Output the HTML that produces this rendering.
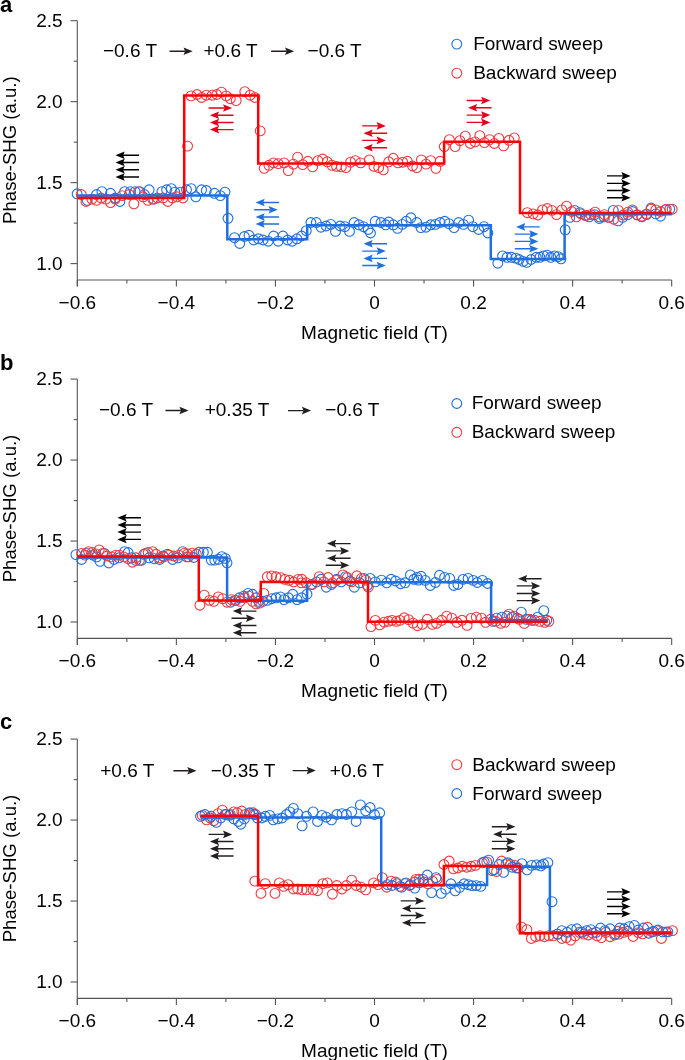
<!DOCTYPE html><html><head><meta charset="utf-8"><style>html,body{margin:0;padding:0;background:#fff;}svg{display:block;} text{-webkit-font-smoothing:antialiased;} .gs{will-change:transform;}</style></head><body><svg class="gs" width="685" height="1060" viewBox="0 0 685 1060">
<rect width="685" height="1060" fill="#fff"/>
<g stroke="#555555" stroke-width="1.1" fill="none" stroke-linecap="butt"><line x1="77.3" y1="20.690000000000026" x2="77.3" y2="286.6" /><line x1="77.3" y1="280.0" x2="671.6800000000001" y2="280.0" /><line x1="70.5" y1="263.60" x2="77.3" y2="263.60" /><line x1="70.5" y1="182.63" x2="77.3" y2="182.63" /><line x1="70.5" y1="101.66" x2="77.3" y2="101.66" /><line x1="70.5" y1="20.69" x2="77.3" y2="20.69" /><line x1="73.8" y1="223.12" x2="77.3" y2="223.12" /><line x1="73.8" y1="142.15" x2="77.3" y2="142.15" /><line x1="73.8" y1="61.18" x2="77.3" y2="61.18" /><line x1="77.32" y1="280.0" x2="77.32" y2="286.6" /><line x1="176.38" y1="280.0" x2="176.38" y2="286.6" /><line x1="275.44" y1="280.0" x2="275.44" y2="286.6" /><line x1="374.50" y1="280.0" x2="374.50" y2="286.6" /><line x1="473.56" y1="280.0" x2="473.56" y2="286.6" /><line x1="572.62" y1="280.0" x2="572.62" y2="286.6" /><line x1="671.68" y1="280.0" x2="671.68" y2="286.6" /><line x1="126.85" y1="280.0" x2="126.85" y2="283.5" /><line x1="225.91" y1="280.0" x2="225.91" y2="283.5" /><line x1="324.97" y1="280.0" x2="324.97" y2="283.5" /><line x1="424.03" y1="280.0" x2="424.03" y2="283.5" /><line x1="523.09" y1="280.0" x2="523.09" y2="283.5" /><line x1="622.15" y1="280.0" x2="622.15" y2="283.5" /><line x1="77.3" y1="379.09000000000003" x2="77.3" y2="645.0" /><line x1="77.3" y1="638.4" x2="671.6800000000001" y2="638.4" /><line x1="70.5" y1="622.00" x2="77.3" y2="622.00" /><line x1="70.5" y1="541.03" x2="77.3" y2="541.03" /><line x1="70.5" y1="460.06" x2="77.3" y2="460.06" /><line x1="70.5" y1="379.09" x2="77.3" y2="379.09" /><line x1="73.8" y1="581.51" x2="77.3" y2="581.51" /><line x1="73.8" y1="500.55" x2="77.3" y2="500.55" /><line x1="73.8" y1="419.57" x2="77.3" y2="419.57" /><line x1="77.32" y1="638.4" x2="77.32" y2="645.0" /><line x1="176.38" y1="638.4" x2="176.38" y2="645.0" /><line x1="275.44" y1="638.4" x2="275.44" y2="645.0" /><line x1="374.50" y1="638.4" x2="374.50" y2="645.0" /><line x1="473.56" y1="638.4" x2="473.56" y2="645.0" /><line x1="572.62" y1="638.4" x2="572.62" y2="645.0" /><line x1="671.68" y1="638.4" x2="671.68" y2="645.0" /><line x1="126.85" y1="638.4" x2="126.85" y2="641.9" /><line x1="225.91" y1="638.4" x2="225.91" y2="641.9" /><line x1="324.97" y1="638.4" x2="324.97" y2="641.9" /><line x1="424.03" y1="638.4" x2="424.03" y2="641.9" /><line x1="523.09" y1="638.4" x2="523.09" y2="641.9" /><line x1="622.15" y1="638.4" x2="622.15" y2="641.9" /><line x1="77.3" y1="739.09" x2="77.3" y2="1005.0" /><line x1="77.3" y1="998.4" x2="671.6800000000001" y2="998.4" /><line x1="70.5" y1="982.00" x2="77.3" y2="982.00" /><line x1="70.5" y1="901.03" x2="77.3" y2="901.03" /><line x1="70.5" y1="820.06" x2="77.3" y2="820.06" /><line x1="70.5" y1="739.09" x2="77.3" y2="739.09" /><line x1="73.8" y1="941.51" x2="77.3" y2="941.51" /><line x1="73.8" y1="860.54" x2="77.3" y2="860.54" /><line x1="73.8" y1="779.58" x2="77.3" y2="779.58" /><line x1="77.32" y1="998.4" x2="77.32" y2="1005.0" /><line x1="176.38" y1="998.4" x2="176.38" y2="1005.0" /><line x1="275.44" y1="998.4" x2="275.44" y2="1005.0" /><line x1="374.50" y1="998.4" x2="374.50" y2="1005.0" /><line x1="473.56" y1="998.4" x2="473.56" y2="1005.0" /><line x1="572.62" y1="998.4" x2="572.62" y2="1005.0" /><line x1="671.68" y1="998.4" x2="671.68" y2="1005.0" /><line x1="126.85" y1="998.4" x2="126.85" y2="1001.9" /><line x1="225.91" y1="998.4" x2="225.91" y2="1001.9" /><line x1="324.97" y1="998.4" x2="324.97" y2="1001.9" /><line x1="424.03" y1="998.4" x2="424.03" y2="1001.9" /><line x1="523.09" y1="998.4" x2="523.09" y2="1001.9" /><line x1="622.15" y1="998.4" x2="622.15" y2="1001.9" /></g>
<g font-family="Liberation Sans, sans-serif" font-size="19" fill="#000"><text x="62.6" y="270.00" text-anchor="end">1.0</text><text x="62.6" y="189.03" text-anchor="end">1.5</text><text x="62.6" y="108.06" text-anchor="end">2.0</text><text x="62.6" y="27.09" text-anchor="end">2.5</text><text x="77.32" y="308.50" text-anchor="middle">&#8722;0.6</text><text x="176.38" y="308.50" text-anchor="middle">&#8722;0.4</text><text x="275.44" y="308.50" text-anchor="middle">&#8722;0.2</text><text x="374.50" y="308.50" text-anchor="middle">0</text><text x="473.56" y="308.50" text-anchor="middle">0.2</text><text x="572.62" y="308.50" text-anchor="middle">0.4</text><text x="671.68" y="308.50" text-anchor="middle">0.6</text><text x="374.50" y="338.50" text-anchor="middle">Magnetic field (T)</text><text transform="translate(16.0,150.10) rotate(-90)" text-anchor="middle" textLength="147.6" lengthAdjust="spacingAndGlyphs">Phase-SHG (a.u.)</text><text x="62.6" y="628.40" text-anchor="end">1.0</text><text x="62.6" y="547.43" text-anchor="end">1.5</text><text x="62.6" y="466.46" text-anchor="end">2.0</text><text x="62.6" y="385.49" text-anchor="end">2.5</text><text x="77.32" y="666.90" text-anchor="middle">&#8722;0.6</text><text x="176.38" y="666.90" text-anchor="middle">&#8722;0.4</text><text x="275.44" y="666.90" text-anchor="middle">&#8722;0.2</text><text x="374.50" y="666.90" text-anchor="middle">0</text><text x="473.56" y="666.90" text-anchor="middle">0.2</text><text x="572.62" y="666.90" text-anchor="middle">0.4</text><text x="671.68" y="666.90" text-anchor="middle">0.6</text><text x="374.50" y="696.90" text-anchor="middle">Magnetic field (T)</text><text transform="translate(16.0,508.50) rotate(-90)" text-anchor="middle" textLength="147.6" lengthAdjust="spacingAndGlyphs">Phase-SHG (a.u.)</text><text x="62.6" y="988.40" text-anchor="end">1.0</text><text x="62.6" y="907.43" text-anchor="end">1.5</text><text x="62.6" y="826.46" text-anchor="end">2.0</text><text x="62.6" y="745.49" text-anchor="end">2.5</text><text x="77.32" y="1026.90" text-anchor="middle">&#8722;0.6</text><text x="176.38" y="1026.90" text-anchor="middle">&#8722;0.4</text><text x="275.44" y="1026.90" text-anchor="middle">&#8722;0.2</text><text x="374.50" y="1026.90" text-anchor="middle">0</text><text x="473.56" y="1026.90" text-anchor="middle">0.2</text><text x="572.62" y="1026.90" text-anchor="middle">0.4</text><text x="671.68" y="1026.90" text-anchor="middle">0.6</text><text x="374.50" y="1056.90" text-anchor="middle">Magnetic field (T)</text><text transform="translate(16.0,868.50) rotate(-90)" text-anchor="middle" textLength="147.6" lengthAdjust="spacingAndGlyphs">Phase-SHG (a.u.)</text></g>
<g font-family="Liberation Sans, sans-serif" font-size="22" font-weight="bold" fill="#000"><text x="0" y="11.6">a</text><text x="0" y="369.8">b</text><text x="0" y="728.8">c</text></g>
<g fill="none" stroke="#1f6fdf" stroke-width="1.1"><circle cx="77.1" cy="193.8" r="4.9"/><circle cx="87.2" cy="200.3" r="4.9"/><circle cx="96.5" cy="194.5" r="4.9"/><circle cx="101.9" cy="191.7" r="4.9"/><circle cx="110.5" cy="193.3" r="4.9"/><circle cx="115.2" cy="198.0" r="4.9"/><circle cx="119.9" cy="201.5" r="4.9"/><circle cx="124.6" cy="191.7" r="4.9"/><circle cx="130.4" cy="191.7" r="4.9"/><circle cx="135.1" cy="191.7" r="4.9"/><circle cx="139.7" cy="191.7" r="4.9"/><circle cx="144.4" cy="194.5" r="4.9"/><circle cx="149.1" cy="189.8" r="4.9"/><circle cx="153.8" cy="199.1" r="4.9"/><circle cx="161.9" cy="191.7" r="4.9"/><circle cx="166.6" cy="189.8" r="4.9"/><circle cx="171.3" cy="188.6" r="4.9"/><circle cx="174.8" cy="192.1" r="4.9"/><circle cx="180.6" cy="192.1" r="4.9"/><circle cx="186.5" cy="189.8" r="4.9"/><circle cx="191.1" cy="188.6" r="4.9"/><circle cx="195.8" cy="196.8" r="4.9"/><circle cx="201.6" cy="189.8" r="4.9"/><circle cx="206.3" cy="190.5" r="4.9"/><circle cx="214.5" cy="193.3" r="4.9"/><circle cx="220.3" cy="195.6" r="4.9"/><circle cx="225.0" cy="192.1" r="4.9"/><circle cx="228.0" cy="218.3" r="4.9"/><circle cx="234.5" cy="237.7" r="4.9"/><circle cx="239.7" cy="243.5" r="4.9"/><circle cx="244.4" cy="236.5" r="4.9"/><circle cx="249.0" cy="235.3" r="4.9"/><circle cx="253.7" cy="240.0" r="4.9"/><circle cx="258.4" cy="238.8" r="4.9"/><circle cx="263.0" cy="240.0" r="4.9"/><circle cx="268.2" cy="241.2" r="4.9"/><circle cx="273.6" cy="236.0" r="4.9"/><circle cx="278.2" cy="241.2" r="4.9"/><circle cx="282.9" cy="236.0" r="4.9"/><circle cx="287.6" cy="240.0" r="4.9"/><circle cx="292.2" cy="241.2" r="4.9"/><circle cx="296.9" cy="238.8" r="4.9"/><circle cx="301.6" cy="236.0" r="4.9"/><circle cx="306.3" cy="230.7" r="4.9"/><circle cx="310.9" cy="222.5" r="4.9"/><circle cx="316.3" cy="222.5" r="4.9"/><circle cx="321.0" cy="227.2" r="4.9"/><circle cx="326.1" cy="226.0" r="4.9"/><circle cx="330.8" cy="224.4" r="4.9"/><circle cx="335.5" cy="231.4" r="4.9"/><circle cx="340.1" cy="226.0" r="4.9"/><circle cx="344.8" cy="226.7" r="4.9"/><circle cx="349.5" cy="231.4" r="4.9"/><circle cx="354.1" cy="222.5" r="4.9"/><circle cx="358.8" cy="224.8" r="4.9"/><circle cx="363.5" cy="226.7" r="4.9"/><circle cx="368.2" cy="229.5" r="4.9"/><circle cx="370.5" cy="233.0" r="4.9"/><circle cx="375.2" cy="221.3" r="4.9"/><circle cx="381.0" cy="222.5" r="4.9"/><circle cx="385.7" cy="224.8" r="4.9"/><circle cx="388.7" cy="222.0" r="4.9"/><circle cx="393.3" cy="224.8" r="4.9"/><circle cx="397.5" cy="228.3" r="4.9"/><circle cx="402.2" cy="224.4" r="4.9"/><circle cx="406.2" cy="221.3" r="4.9"/><circle cx="410.9" cy="217.8" r="4.9"/><circle cx="416.7" cy="222.5" r="4.9"/><circle cx="420.9" cy="227.6" r="4.9"/><circle cx="426.0" cy="227.2" r="4.9"/><circle cx="430.7" cy="224.8" r="4.9"/><circle cx="435.4" cy="224.4" r="4.9"/><circle cx="440.1" cy="222.5" r="4.9"/><circle cx="444.7" cy="221.3" r="4.9"/><circle cx="448.9" cy="223.7" r="4.9"/><circle cx="454.1" cy="227.6" r="4.9"/><circle cx="458.7" cy="222.5" r="4.9"/><circle cx="463.4" cy="224.4" r="4.9"/><circle cx="468.6" cy="220.2" r="4.9"/><circle cx="472.8" cy="226.7" r="4.9"/><circle cx="478.6" cy="229.5" r="4.9"/><circle cx="484.0" cy="226.7" r="4.9"/><circle cx="487.9" cy="233.0" r="4.9"/><circle cx="565.2" cy="229.8" r="4.9"/><circle cx="569.8" cy="217.4" r="4.9"/><circle cx="574.5" cy="210.4" r="4.9"/><circle cx="579.9" cy="212.7" r="4.9"/><circle cx="585.3" cy="215.5" r="4.9"/><circle cx="589.2" cy="216.9" r="4.9"/><circle cx="594.6" cy="214.6" r="4.9"/><circle cx="599.3" cy="218.5" r="4.9"/><circle cx="604.0" cy="216.9" r="4.9"/><circle cx="608.6" cy="217.4" r="4.9"/><circle cx="613.3" cy="210.4" r="4.9"/><circle cx="618.0" cy="220.9" r="4.9"/><circle cx="622.6" cy="217.4" r="4.9"/><circle cx="627.8" cy="214.6" r="4.9"/><circle cx="632.5" cy="211.5" r="4.9"/><circle cx="637.1" cy="214.6" r="4.9"/><circle cx="641.8" cy="216.9" r="4.9"/><circle cx="646.5" cy="214.6" r="4.9"/><circle cx="651.1" cy="208.0" r="4.9"/><circle cx="655.8" cy="213.9" r="4.9"/><circle cx="660.5" cy="216.2" r="4.9"/><circle cx="665.2" cy="209.9" r="4.9"/><circle cx="669.8" cy="209.2" r="4.9"/><circle cx="497.8" cy="263.2" r="4.9"/><circle cx="502.6" cy="255.9" r="4.9"/><circle cx="507.0" cy="257.3" r="4.9"/><circle cx="511.4" cy="257.3" r="4.9"/><circle cx="515.8" cy="258.1" r="4.9"/><circle cx="519.1" cy="259.5" r="4.9"/><circle cx="523.1" cy="261.4" r="4.9"/><circle cx="526.7" cy="262.4" r="4.9"/><circle cx="531.1" cy="259.5" r="4.9"/><circle cx="536.2" cy="257.3" r="4.9"/><circle cx="539.9" cy="257.3" r="4.9"/><circle cx="543.5" cy="255.9" r="4.9"/><circle cx="547.2" cy="255.1" r="4.9"/><circle cx="550.8" cy="257.3" r="4.9"/><circle cx="554.5" cy="255.9" r="4.9"/><circle cx="558.1" cy="256.6" r="4.9"/><circle cx="561.0" cy="258.8" r="4.9"/></g>
<g fill="none" stroke="#f03a3f" stroke-width="1.1"><circle cx="81.3" cy="194.5" r="4.9"/><circle cx="86.0" cy="201.5" r="4.9"/><circle cx="91.9" cy="199.1" r="4.9"/><circle cx="96.5" cy="200.3" r="4.9"/><circle cx="101.2" cy="198.0" r="4.9"/><circle cx="105.9" cy="199.1" r="4.9"/><circle cx="110.5" cy="202.6" r="4.9"/><circle cx="115.2" cy="199.1" r="4.9"/><circle cx="122.2" cy="195.6" r="4.9"/><circle cx="129.2" cy="194.5" r="4.9"/><circle cx="133.9" cy="203.8" r="4.9"/><circle cx="138.6" cy="191.7" r="4.9"/><circle cx="143.2" cy="196.8" r="4.9"/><circle cx="147.9" cy="200.3" r="4.9"/><circle cx="152.6" cy="199.1" r="4.9"/><circle cx="157.3" cy="198.0" r="4.9"/><circle cx="163.1" cy="198.0" r="4.9"/><circle cx="167.8" cy="201.5" r="4.9"/><circle cx="172.4" cy="198.0" r="4.9"/><circle cx="177.1" cy="196.8" r="4.9"/><circle cx="183.0" cy="198.0" r="4.9"/><circle cx="187.6" cy="146.1" r="4.9"/><circle cx="191.1" cy="95.9" r="4.9"/><circle cx="197.0" cy="94.5" r="4.9"/><circle cx="201.6" cy="97.5" r="4.9"/><circle cx="206.3" cy="95.2" r="4.9"/><circle cx="212.2" cy="95.2" r="4.9"/><circle cx="216.8" cy="94.5" r="4.9"/><circle cx="221.5" cy="92.1" r="4.9"/><circle cx="226.2" cy="95.9" r="4.9"/><circle cx="230.3" cy="98.7" r="4.9"/><circle cx="236.2" cy="100.6" r="4.9"/><circle cx="244.8" cy="91.7" r="4.9"/><circle cx="250.2" cy="95.2" r="4.9"/><circle cx="254.9" cy="97.5" r="4.9"/><circle cx="260.2" cy="130.9" r="4.9"/><circle cx="264.2" cy="168.3" r="4.9"/><circle cx="268.9" cy="165.3" r="4.9"/><circle cx="273.6" cy="162.9" r="4.9"/><circle cx="278.2" cy="163.6" r="4.9"/><circle cx="284.1" cy="162.9" r="4.9"/><circle cx="288.3" cy="170.6" r="4.9"/><circle cx="293.4" cy="164.1" r="4.9"/><circle cx="297.6" cy="157.1" r="4.9"/><circle cx="302.7" cy="164.6" r="4.9"/><circle cx="307.9" cy="161.3" r="4.9"/><circle cx="312.6" cy="166.9" r="4.9"/><circle cx="317.9" cy="160.6" r="4.9"/><circle cx="322.6" cy="159.0" r="4.9"/><circle cx="327.3" cy="161.8" r="4.9"/><circle cx="331.9" cy="165.3" r="4.9"/><circle cx="336.6" cy="166.4" r="4.9"/><circle cx="341.3" cy="166.9" r="4.9"/><circle cx="346.0" cy="167.6" r="4.9"/><circle cx="350.6" cy="162.2" r="4.9"/><circle cx="355.3" cy="160.6" r="4.9"/><circle cx="360.7" cy="162.9" r="4.9"/><circle cx="369.3" cy="159.9" r="4.9"/><circle cx="374.0" cy="166.4" r="4.9"/><circle cx="378.7" cy="167.6" r="4.9"/><circle cx="383.3" cy="169.9" r="4.9"/><circle cx="388.7" cy="161.8" r="4.9"/><circle cx="393.3" cy="158.3" r="4.9"/><circle cx="398.0" cy="162.9" r="4.9"/><circle cx="402.7" cy="162.2" r="4.9"/><circle cx="407.4" cy="161.3" r="4.9"/><circle cx="412.5" cy="166.0" r="4.9"/><circle cx="416.7" cy="167.6" r="4.9"/><circle cx="421.4" cy="159.9" r="4.9"/><circle cx="426.0" cy="164.1" r="4.9"/><circle cx="430.7" cy="160.6" r="4.9"/><circle cx="435.9" cy="168.3" r="4.9"/><circle cx="440.1" cy="161.3" r="4.9"/><circle cx="444.3" cy="146.6" r="4.9"/><circle cx="449.4" cy="139.6" r="4.9"/><circle cx="455.2" cy="146.6" r="4.9"/><circle cx="459.9" cy="140.7" r="4.9"/><circle cx="465.3" cy="136.1" r="4.9"/><circle cx="470.4" cy="143.5" r="4.9"/><circle cx="475.1" cy="141.9" r="4.9"/><circle cx="479.8" cy="135.6" r="4.9"/><circle cx="484.4" cy="142.6" r="4.9"/><circle cx="489.6" cy="139.6" r="4.9"/><circle cx="494.3" cy="143.5" r="4.9"/><circle cx="498.9" cy="138.4" r="4.9"/><circle cx="503.6" cy="145.9" r="4.9"/><circle cx="509.0" cy="140.3" r="4.9"/><circle cx="514.3" cy="137.9" r="4.9"/><circle cx="527.3" cy="212.7" r="4.9"/><circle cx="533.2" cy="213.9" r="4.9"/><circle cx="537.8" cy="215.0" r="4.9"/><circle cx="542.5" cy="209.9" r="4.9"/><circle cx="547.2" cy="208.5" r="4.9"/><circle cx="551.9" cy="210.4" r="4.9"/><circle cx="556.5" cy="214.6" r="4.9"/><circle cx="561.9" cy="209.9" r="4.9"/><circle cx="566.6" cy="206.2" r="4.9"/><circle cx="571.7" cy="211.5" r="4.9"/><circle cx="576.4" cy="216.9" r="4.9"/><circle cx="581.1" cy="213.9" r="4.9"/><circle cx="586.2" cy="215.5" r="4.9"/><circle cx="590.9" cy="214.6" r="4.9"/><circle cx="595.1" cy="212.2" r="4.9"/><circle cx="599.7" cy="216.9" r="4.9"/><circle cx="604.4" cy="214.6" r="4.9"/><circle cx="609.1" cy="217.4" r="4.9"/><circle cx="613.8" cy="219.2" r="4.9"/><circle cx="618.4" cy="210.4" r="4.9"/><circle cx="623.1" cy="215.0" r="4.9"/><circle cx="627.8" cy="212.2" r="4.9"/><circle cx="632.5" cy="209.9" r="4.9"/><circle cx="637.1" cy="215.0" r="4.9"/><circle cx="641.8" cy="216.2" r="4.9"/><circle cx="646.5" cy="213.9" r="4.9"/><circle cx="651.1" cy="209.2" r="4.9"/><circle cx="655.8" cy="209.9" r="4.9"/><circle cx="660.5" cy="211.5" r="4.9"/><circle cx="666.3" cy="209.2" r="4.9"/><circle cx="672.2" cy="209.2" r="4.9"/></g>
<g fill="none" stroke="#1f6fdf" stroke-width="1.1"><circle cx="75.9" cy="554.6" r="4.9"/><circle cx="81.6" cy="559.5" r="4.9"/><circle cx="86.0" cy="553.4" r="4.9"/><circle cx="93.0" cy="555.1" r="4.9"/><circle cx="96.5" cy="556.9" r="4.9"/><circle cx="100.0" cy="561.3" r="4.9"/><circle cx="104.4" cy="553.4" r="4.9"/><circle cx="108.8" cy="563.0" r="4.9"/><circle cx="114.0" cy="559.5" r="4.9"/><circle cx="119.0" cy="557.8" r="4.9"/><circle cx="124.6" cy="551.6" r="4.9"/><circle cx="128.1" cy="552.5" r="4.9"/><circle cx="131.6" cy="557.8" r="4.9"/><circle cx="135.9" cy="560.4" r="4.9"/><circle cx="141.2" cy="560.4" r="4.9"/><circle cx="145.6" cy="553.4" r="4.9"/><circle cx="149.1" cy="557.8" r="4.9"/><circle cx="154.3" cy="558.7" r="4.9"/><circle cx="159.6" cy="559.5" r="4.9"/><circle cx="163.1" cy="556.0" r="4.9"/><circle cx="167.5" cy="554.3" r="4.9"/><circle cx="172.7" cy="559.5" r="4.9"/><circle cx="178.0" cy="557.8" r="4.9"/><circle cx="182.7" cy="551.6" r="4.9"/><circle cx="186.8" cy="556.9" r="4.9"/><circle cx="193.8" cy="557.5" r="4.9"/><circle cx="199.0" cy="552.3" r="4.9"/><circle cx="203.4" cy="552.3" r="4.9"/><circle cx="207.4" cy="552.3" r="4.9"/><circle cx="211.3" cy="560.1" r="4.9"/><circle cx="214.8" cy="560.1" r="4.9"/><circle cx="218.3" cy="559.3" r="4.9"/><circle cx="221.8" cy="556.6" r="4.9"/><circle cx="225.3" cy="558.4" r="4.9"/><circle cx="227.0" cy="562.8" r="4.9"/><circle cx="230.6" cy="602.2" r="4.9"/><circle cx="234.9" cy="600.4" r="4.9"/><circle cx="239.3" cy="597.8" r="4.9"/><circle cx="243.7" cy="596.1" r="4.9"/><circle cx="248.1" cy="593.4" r="4.9"/><circle cx="252.4" cy="594.3" r="4.9"/><circle cx="256.0" cy="597.8" r="4.9"/><circle cx="258.6" cy="601.3" r="4.9"/><circle cx="263.0" cy="601.3" r="4.9"/><circle cx="267.3" cy="600.4" r="4.9"/><circle cx="271.7" cy="598.7" r="4.9"/><circle cx="276.1" cy="597.8" r="4.9"/><circle cx="280.5" cy="596.9" r="4.9"/><circle cx="284.0" cy="599.6" r="4.9"/><circle cx="288.4" cy="597.8" r="4.9"/><circle cx="292.7" cy="594.3" r="4.9"/><circle cx="297.1" cy="599.6" r="4.9"/><circle cx="301.5" cy="597.8" r="4.9"/><circle cx="307.0" cy="594.2" r="4.9"/><circle cx="311.4" cy="584.5" r="4.9"/><circle cx="316.6" cy="581.9" r="4.9"/><circle cx="321.0" cy="579.3" r="4.9"/><circle cx="326.3" cy="587.2" r="4.9"/><circle cx="331.5" cy="584.5" r="4.9"/><circle cx="336.8" cy="579.3" r="4.9"/><circle cx="341.2" cy="581.9" r="4.9"/><circle cx="345.6" cy="576.6" r="4.9"/><circle cx="349.9" cy="581.0" r="4.9"/><circle cx="354.3" cy="587.2" r="4.9"/><circle cx="359.6" cy="582.8" r="4.9"/><circle cx="363.9" cy="578.4" r="4.9"/><circle cx="367.4" cy="585.4" r="4.9"/><circle cx="370.1" cy="578.4" r="4.9"/><circle cx="375.3" cy="581.9" r="4.9"/><circle cx="381.5" cy="580.1" r="4.9"/><circle cx="386.7" cy="582.8" r="4.9"/><circle cx="391.1" cy="579.3" r="4.9"/><circle cx="395.5" cy="581.0" r="4.9"/><circle cx="400.7" cy="583.7" r="4.9"/><circle cx="405.1" cy="582.8" r="4.9"/><circle cx="410.4" cy="574.9" r="4.9"/><circle cx="413.9" cy="579.3" r="4.9"/><circle cx="418.3" cy="580.1" r="4.9"/><circle cx="417.0" cy="577.4" r="4.9"/><circle cx="421.1" cy="576.3" r="4.9"/><circle cx="425.2" cy="580.4" r="4.9"/><circle cx="430.3" cy="585.5" r="4.9"/><circle cx="435.4" cy="582.5" r="4.9"/><circle cx="439.5" cy="575.3" r="4.9"/><circle cx="444.6" cy="577.4" r="4.9"/><circle cx="449.7" cy="578.4" r="4.9"/><circle cx="453.8" cy="585.5" r="4.9"/><circle cx="457.9" cy="584.5" r="4.9"/><circle cx="463.0" cy="579.4" r="4.9"/><circle cx="468.1" cy="578.4" r="4.9"/><circle cx="473.2" cy="580.4" r="4.9"/><circle cx="477.3" cy="582.5" r="4.9"/><circle cx="482.4" cy="580.4" r="4.9"/><circle cx="487.6" cy="583.5" r="4.9"/><circle cx="492.7" cy="621.3" r="4.9"/><circle cx="496.7" cy="618.2" r="4.9"/><circle cx="501.9" cy="617.2" r="4.9"/><circle cx="507.0" cy="616.2" r="4.9"/><circle cx="512.1" cy="617.2" r="4.9"/><circle cx="517.2" cy="618.2" r="4.9"/><circle cx="521.3" cy="612.1" r="4.9"/><circle cx="526.4" cy="619.3" r="4.9"/><circle cx="531.5" cy="620.3" r="4.9"/><circle cx="537.6" cy="617.2" r="4.9"/><circle cx="543.8" cy="610.7" r="4.9"/><circle cx="546.8" cy="620.3" r="4.9"/></g>
<g fill="none" stroke="#f03a3f" stroke-width="1.1"><circle cx="81.6" cy="553.4" r="4.9"/><circle cx="85.1" cy="555.1" r="4.9"/><circle cx="88.6" cy="551.6" r="4.9"/><circle cx="92.1" cy="552.5" r="4.9"/><circle cx="95.7" cy="553.9" r="4.9"/><circle cx="99.2" cy="549.9" r="4.9"/><circle cx="102.7" cy="553.4" r="4.9"/><circle cx="107.0" cy="556.0" r="4.9"/><circle cx="111.4" cy="556.9" r="4.9"/><circle cx="115.8" cy="555.1" r="4.9"/><circle cx="119.3" cy="555.1" r="4.9"/><circle cx="123.7" cy="556.9" r="4.9"/><circle cx="128.1" cy="558.7" r="4.9"/><circle cx="132.4" cy="562.2" r="4.9"/><circle cx="135.9" cy="557.8" r="4.9"/><circle cx="139.4" cy="560.4" r="4.9"/><circle cx="143.8" cy="554.3" r="4.9"/><circle cx="148.2" cy="552.5" r="4.9"/><circle cx="152.6" cy="551.6" r="4.9"/><circle cx="156.1" cy="554.3" r="4.9"/><circle cx="159.6" cy="557.8" r="4.9"/><circle cx="164.0" cy="556.9" r="4.9"/><circle cx="169.2" cy="555.1" r="4.9"/><circle cx="173.6" cy="556.0" r="4.9"/><circle cx="178.9" cy="555.1" r="4.9"/><circle cx="184.1" cy="553.4" r="4.9"/><circle cx="188.5" cy="556.9" r="4.9"/><circle cx="187.6" cy="554.0" r="4.9"/><circle cx="192.0" cy="553.1" r="4.9"/><circle cx="196.4" cy="554.0" r="4.9"/><circle cx="199.9" cy="605.2" r="4.9"/><circle cx="204.3" cy="595.2" r="4.9"/><circle cx="209.5" cy="600.4" r="4.9"/><circle cx="213.9" cy="601.3" r="4.9"/><circle cx="218.3" cy="596.9" r="4.9"/><circle cx="222.7" cy="598.7" r="4.9"/><circle cx="227.0" cy="602.2" r="4.9"/><circle cx="231.4" cy="599.6" r="4.9"/><circle cx="235.8" cy="600.4" r="4.9"/><circle cx="240.2" cy="601.3" r="4.9"/><circle cx="244.6" cy="597.8" r="4.9"/><circle cx="248.9" cy="596.1" r="4.9"/><circle cx="252.4" cy="601.3" r="4.9"/><circle cx="256.0" cy="603.9" r="4.9"/><circle cx="259.5" cy="603.1" r="4.9"/><circle cx="263.8" cy="593.4" r="4.9"/><circle cx="267.3" cy="576.8" r="4.9"/><circle cx="271.7" cy="575.9" r="4.9"/><circle cx="276.1" cy="576.8" r="4.9"/><circle cx="280.5" cy="577.7" r="4.9"/><circle cx="284.9" cy="579.4" r="4.9"/><circle cx="289.2" cy="580.3" r="4.9"/><circle cx="293.6" cy="582.0" r="4.9"/><circle cx="298.0" cy="579.4" r="4.9"/><circle cx="301.5" cy="582.9" r="4.9"/><circle cx="301.8" cy="579.3" r="4.9"/><circle cx="306.1" cy="582.8" r="4.9"/><circle cx="312.3" cy="584.5" r="4.9"/><circle cx="319.3" cy="576.6" r="4.9"/><circle cx="323.7" cy="581.9" r="4.9"/><circle cx="328.0" cy="577.5" r="4.9"/><circle cx="332.4" cy="582.8" r="4.9"/><circle cx="336.8" cy="580.1" r="4.9"/><circle cx="342.9" cy="574.9" r="4.9"/><circle cx="347.3" cy="577.5" r="4.9"/><circle cx="351.7" cy="581.9" r="4.9"/><circle cx="356.9" cy="575.8" r="4.9"/><circle cx="361.3" cy="578.4" r="4.9"/><circle cx="365.7" cy="580.1" r="4.9"/><circle cx="368.3" cy="587.2" r="4.9"/><circle cx="371.0" cy="626.6" r="4.9"/><circle cx="375.3" cy="620.4" r="4.9"/><circle cx="379.7" cy="624.8" r="4.9"/><circle cx="384.1" cy="622.2" r="4.9"/><circle cx="388.5" cy="621.3" r="4.9"/><circle cx="392.0" cy="620.4" r="4.9"/><circle cx="396.4" cy="621.3" r="4.9"/><circle cx="399.9" cy="620.4" r="4.9"/><circle cx="404.2" cy="617.8" r="4.9"/><circle cx="408.6" cy="619.6" r="4.9"/><circle cx="413.0" cy="623.1" r="4.9"/><circle cx="417.4" cy="625.7" r="4.9"/><circle cx="422.2" cy="624.4" r="4.9"/><circle cx="427.3" cy="619.3" r="4.9"/><circle cx="432.4" cy="624.4" r="4.9"/><circle cx="436.5" cy="623.4" r="4.9"/><circle cx="441.6" cy="620.3" r="4.9"/><circle cx="446.7" cy="616.2" r="4.9"/><circle cx="451.8" cy="618.2" r="4.9"/><circle cx="456.9" cy="622.3" r="4.9"/><circle cx="462.0" cy="620.3" r="4.9"/><circle cx="467.1" cy="625.4" r="4.9"/><circle cx="471.2" cy="618.2" r="4.9"/><circle cx="476.3" cy="617.2" r="4.9"/><circle cx="481.4" cy="618.2" r="4.9"/><circle cx="485.5" cy="622.3" r="4.9"/><circle cx="490.6" cy="619.3" r="4.9"/><circle cx="495.7" cy="621.3" r="4.9"/><circle cx="500.8" cy="623.4" r="4.9"/><circle cx="504.9" cy="622.3" r="4.9"/><circle cx="509.0" cy="614.2" r="4.9"/><circle cx="514.1" cy="616.2" r="4.9"/><circle cx="519.2" cy="619.3" r="4.9"/><circle cx="524.3" cy="623.4" r="4.9"/><circle cx="529.4" cy="619.3" r="4.9"/><circle cx="534.6" cy="620.3" r="4.9"/><circle cx="539.7" cy="621.3" r="4.9"/><circle cx="544.8" cy="622.3" r="4.9"/><circle cx="548.9" cy="621.3" r="4.9"/></g>
<g fill="none" stroke="#f03a3f" stroke-width="1.1"><circle cx="202.3" cy="815.4" r="4.9"/><circle cx="206.6" cy="819.8" r="4.9"/><circle cx="210.1" cy="818.0" r="4.9"/><circle cx="213.7" cy="820.7" r="4.9"/><circle cx="218.0" cy="813.7" r="4.9"/><circle cx="222.4" cy="810.1" r="4.9"/><circle cx="225.9" cy="814.5" r="4.9"/><circle cx="230.3" cy="814.5" r="4.9"/><circle cx="233.8" cy="811.9" r="4.9"/><circle cx="237.3" cy="812.8" r="4.9"/><circle cx="241.7" cy="811.0" r="4.9"/><circle cx="245.2" cy="814.5" r="4.9"/><circle cx="249.6" cy="813.7" r="4.9"/><circle cx="253.1" cy="812.8" r="4.9"/><circle cx="255.7" cy="814.5" r="4.9"/><circle cx="254.8" cy="881.1" r="4.9"/><circle cx="261.0" cy="893.4" r="4.9"/><circle cx="265.3" cy="883.7" r="4.9"/><circle cx="275.0" cy="893.4" r="4.9"/><circle cx="279.3" cy="882.9" r="4.9"/><circle cx="283.7" cy="886.4" r="4.9"/><circle cx="288.1" cy="884.6" r="4.9"/><circle cx="293.4" cy="889.0" r="4.9"/><circle cx="297.7" cy="889.0" r="4.9"/><circle cx="302.1" cy="889.9" r="4.9"/><circle cx="306.5" cy="889.9" r="4.9"/><circle cx="313.1" cy="889.9" r="4.9"/><circle cx="317.5" cy="890.7" r="4.9"/><circle cx="322.8" cy="883.7" r="4.9"/><circle cx="327.2" cy="882.9" r="4.9"/><circle cx="332.4" cy="894.2" r="4.9"/><circle cx="336.8" cy="885.5" r="4.9"/><circle cx="342.0" cy="889.0" r="4.9"/><circle cx="346.4" cy="885.5" r="4.9"/><circle cx="351.7" cy="880.2" r="4.9"/><circle cx="356.1" cy="885.5" r="4.9"/><circle cx="361.3" cy="887.2" r="4.9"/><circle cx="365.7" cy="889.9" r="4.9"/><circle cx="373.6" cy="882.9" r="4.9"/><circle cx="378.0" cy="884.6" r="4.9"/><circle cx="382.3" cy="877.6" r="4.9"/><circle cx="386.7" cy="887.2" r="4.9"/><circle cx="391.1" cy="881.1" r="4.9"/><circle cx="395.5" cy="882.0" r="4.9"/><circle cx="399.9" cy="886.4" r="4.9"/><circle cx="405.1" cy="883.7" r="4.9"/><circle cx="409.5" cy="885.5" r="4.9"/><circle cx="414.8" cy="882.0" r="4.9"/><circle cx="419.1" cy="879.3" r="4.9"/><circle cx="415.9" cy="879.4" r="4.9"/><circle cx="423.8" cy="882.0" r="4.9"/><circle cx="428.1" cy="883.8" r="4.9"/><circle cx="432.5" cy="881.2" r="4.9"/><circle cx="436.9" cy="879.4" r="4.9"/><circle cx="443.9" cy="864.5" r="4.9"/><circle cx="449.2" cy="861.0" r="4.9"/><circle cx="453.5" cy="868.9" r="4.9"/><circle cx="457.9" cy="868.0" r="4.9"/><circle cx="462.3" cy="866.3" r="4.9"/><circle cx="466.7" cy="867.2" r="4.9"/><circle cx="471.1" cy="866.3" r="4.9"/><circle cx="475.4" cy="865.4" r="4.9"/><circle cx="482.4" cy="862.8" r="4.9"/><circle cx="486.8" cy="861.9" r="4.9"/><circle cx="492.1" cy="870.7" r="4.9"/><circle cx="496.5" cy="871.5" r="4.9"/><circle cx="501.7" cy="861.0" r="4.9"/><circle cx="506.1" cy="863.7" r="4.9"/><circle cx="510.5" cy="864.5" r="4.9"/><circle cx="514.9" cy="865.4" r="4.9"/><circle cx="518.4" cy="868.0" r="4.9"/><circle cx="521.6" cy="927.1" r="4.9"/><circle cx="526.9" cy="929.7" r="4.9"/><circle cx="531.3" cy="938.5" r="4.9"/><circle cx="535.7" cy="936.7" r="4.9"/><circle cx="540.0" cy="935.8" r="4.9"/><circle cx="544.4" cy="936.7" r="4.9"/><circle cx="548.8" cy="935.8" r="4.9"/><circle cx="553.2" cy="935.8" r="4.9"/><circle cx="557.6" cy="934.1" r="4.9"/><circle cx="561.9" cy="938.5" r="4.9"/><circle cx="566.3" cy="937.6" r="4.9"/><circle cx="570.7" cy="940.2" r="4.9"/><circle cx="575.1" cy="935.8" r="4.9"/><circle cx="579.5" cy="932.3" r="4.9"/><circle cx="583.8" cy="934.1" r="4.9"/><circle cx="588.2" cy="935.0" r="4.9"/><circle cx="592.6" cy="933.2" r="4.9"/><circle cx="597.0" cy="935.8" r="4.9"/><circle cx="601.4" cy="937.6" r="4.9"/><circle cx="605.7" cy="932.3" r="4.9"/><circle cx="610.1" cy="936.7" r="4.9"/><circle cx="614.5" cy="935.0" r="4.9"/><circle cx="618.9" cy="934.1" r="4.9"/><circle cx="623.3" cy="932.3" r="4.9"/><circle cx="618.0" cy="931.3" r="4.9"/><circle cx="627.8" cy="931.3" r="4.9"/><circle cx="633.1" cy="936.5" r="4.9"/><circle cx="638.4" cy="932.6" r="4.9"/><circle cx="642.3" cy="933.9" r="4.9"/><circle cx="647.6" cy="927.3" r="4.9"/><circle cx="652.2" cy="931.9" r="4.9"/><circle cx="656.8" cy="930.6" r="4.9"/><circle cx="661.4" cy="938.5" r="4.9"/><circle cx="665.9" cy="931.9" r="4.9"/><circle cx="672.5" cy="930.6" r="4.9"/></g>
<g fill="none" stroke="#1f6fdf" stroke-width="1.1"><circle cx="200.5" cy="816.3" r="4.9"/><circle cx="204.9" cy="814.5" r="4.9"/><circle cx="211.0" cy="816.3" r="4.9"/><circle cx="216.3" cy="822.4" r="4.9"/><circle cx="220.7" cy="818.0" r="4.9"/><circle cx="225.0" cy="814.5" r="4.9"/><circle cx="229.4" cy="815.4" r="4.9"/><circle cx="233.8" cy="818.9" r="4.9"/><circle cx="238.2" cy="821.5" r="4.9"/><circle cx="240.8" cy="824.2" r="4.9"/><circle cx="244.3" cy="818.9" r="4.9"/><circle cx="249.6" cy="812.8" r="4.9"/><circle cx="253.9" cy="814.5" r="4.9"/><circle cx="257.4" cy="818.0" r="4.9"/><circle cx="261.8" cy="818.0" r="4.9"/><circle cx="265.3" cy="816.3" r="4.9"/><circle cx="269.7" cy="815.4" r="4.9"/><circle cx="273.2" cy="819.8" r="4.9"/><circle cx="277.6" cy="818.9" r="4.9"/><circle cx="282.0" cy="818.0" r="4.9"/><circle cx="286.4" cy="814.5" r="4.9"/><circle cx="289.9" cy="811.9" r="4.9"/><circle cx="293.4" cy="808.4" r="4.9"/><circle cx="297.7" cy="813.7" r="4.9"/><circle cx="302.1" cy="825.9" r="4.9"/><circle cx="306.5" cy="816.3" r="4.9"/><circle cx="313.1" cy="811.9" r="4.9"/><circle cx="317.5" cy="821.5" r="4.9"/><circle cx="321.9" cy="815.4" r="4.9"/><circle cx="326.3" cy="817.2" r="4.9"/><circle cx="331.5" cy="819.8" r="4.9"/><circle cx="336.8" cy="814.5" r="4.9"/><circle cx="342.0" cy="813.7" r="4.9"/><circle cx="346.4" cy="814.5" r="4.9"/><circle cx="351.7" cy="811.9" r="4.9"/><circle cx="356.1" cy="821.5" r="4.9"/><circle cx="360.4" cy="804.9" r="4.9"/><circle cx="365.7" cy="811.0" r="4.9"/><circle cx="370.1" cy="807.5" r="4.9"/><circle cx="374.5" cy="814.5" r="4.9"/><circle cx="379.7" cy="812.8" r="4.9"/><circle cx="387.6" cy="884.6" r="4.9"/><circle cx="392.0" cy="885.5" r="4.9"/><circle cx="397.2" cy="883.7" r="4.9"/><circle cx="401.6" cy="887.2" r="4.9"/><circle cx="406.0" cy="882.9" r="4.9"/><circle cx="410.4" cy="884.6" r="4.9"/><circle cx="414.8" cy="888.1" r="4.9"/><circle cx="419.1" cy="882.9" r="4.9"/><circle cx="422.9" cy="879.4" r="4.9"/><circle cx="427.3" cy="875.0" r="4.9"/><circle cx="431.6" cy="892.6" r="4.9"/><circle cx="436.0" cy="877.7" r="4.9"/><circle cx="441.3" cy="893.4" r="4.9"/><circle cx="445.7" cy="889.1" r="4.9"/><circle cx="450.9" cy="883.8" r="4.9"/><circle cx="455.3" cy="890.8" r="4.9"/><circle cx="459.7" cy="887.3" r="4.9"/><circle cx="464.1" cy="883.8" r="4.9"/><circle cx="468.4" cy="884.7" r="4.9"/><circle cx="471.9" cy="885.6" r="4.9"/><circle cx="476.3" cy="885.6" r="4.9"/><circle cx="480.7" cy="886.4" r="4.9"/><circle cx="484.2" cy="861.9" r="4.9"/><circle cx="488.6" cy="860.1" r="4.9"/><circle cx="493.8" cy="869.8" r="4.9"/><circle cx="499.1" cy="864.5" r="4.9"/><circle cx="503.5" cy="872.4" r="4.9"/><circle cx="507.9" cy="862.8" r="4.9"/><circle cx="512.2" cy="867.2" r="4.9"/><circle cx="516.6" cy="868.0" r="4.9"/><circle cx="521.9" cy="863.7" r="4.9"/><circle cx="527.1" cy="869.8" r="4.9"/><circle cx="531.5" cy="865.4" r="4.9"/><circle cx="536.5" cy="864.9" r="4.9"/><circle cx="540.9" cy="865.8" r="4.9"/><circle cx="543.5" cy="864.0" r="4.9"/><circle cx="547.9" cy="862.6" r="4.9"/><circle cx="552.0" cy="901.7" r="4.9"/><circle cx="557.6" cy="934.1" r="4.9"/><circle cx="561.9" cy="930.6" r="4.9"/><circle cx="567.2" cy="932.3" r="4.9"/><circle cx="571.6" cy="929.7" r="4.9"/><circle cx="576.8" cy="928.8" r="4.9"/><circle cx="582.1" cy="932.3" r="4.9"/><circle cx="586.5" cy="930.6" r="4.9"/><circle cx="590.8" cy="929.7" r="4.9"/><circle cx="596.1" cy="932.3" r="4.9"/><circle cx="600.5" cy="928.0" r="4.9"/><circle cx="604.9" cy="930.6" r="4.9"/><circle cx="610.1" cy="928.8" r="4.9"/><circle cx="615.4" cy="934.1" r="4.9"/><circle cx="619.8" cy="928.0" r="4.9"/><circle cx="624.1" cy="928.8" r="4.9"/><circle cx="629.2" cy="926.7" r="4.9"/><circle cx="634.4" cy="925.4" r="4.9"/><circle cx="638.4" cy="930.0" r="4.9"/><circle cx="643.6" cy="928.0" r="4.9"/><circle cx="648.9" cy="933.2" r="4.9"/><circle cx="653.5" cy="931.3" r="4.9"/><circle cx="658.1" cy="930.0" r="4.9"/><circle cx="662.7" cy="931.9" r="4.9"/><circle cx="667.9" cy="931.9" r="4.9"/></g>
<path d="M77.30 195.60 L227.30 195.60 L227.30 239.20 L307.20 239.20 L307.20 225.30 L490.80 225.30 L490.80 258.90 L564.60 258.90 L564.60 214.20 L671.70 214.20" fill="none" stroke="#1f6fdf" stroke-width="2.5" stroke-linejoin="miter" stroke-linecap="butt"/>
<path d="M77.30 197.90 L184.20 197.90 L184.20 95.60 L258.20 95.60 L258.20 163.50 L444.10 163.50 L444.10 141.70 L520.00 141.70 L520.00 213.00 L671.70 213.00" fill="none" stroke="#ff0000" stroke-width="2.5" stroke-linejoin="miter" stroke-linecap="butt"/>
<path d="M77.30 557.60 L227.10 557.60 L227.10 600.80 L307.10 600.80 L307.10 582.30 L491.10 582.30 L491.10 620.20 L547.80 620.20" fill="none" stroke="#1f6fdf" stroke-width="2.5" stroke-linejoin="miter" stroke-linecap="butt"/>
<path d="M77.30 556.60 L198.80 556.60 L198.80 600.40 L260.80 600.40 L260.80 582.00 L368.00 582.00 L368.00 621.80 L547.80 621.80" fill="none" stroke="#ff0000" stroke-width="2.5" stroke-linejoin="miter" stroke-linecap="butt"/>
<path d="M200.50 817.40 L381.20 817.40 L381.20 885.00 L487.10 885.00 L487.10 866.80 L549.90 866.80 L549.90 932.20 L671.70 932.20" fill="none" stroke="#1f6fdf" stroke-width="2.5" stroke-linejoin="miter" stroke-linecap="butt"/>
<path d="M200.50 815.70 L258.10 815.70 L258.10 885.30 L443.90 885.30 L443.90 866.00 L519.90 866.00 L519.90 933.30 L671.70 933.30" fill="none" stroke="#ff0000" stroke-width="2.5" stroke-linejoin="miter" stroke-linecap="butt"/>
<path d="M123.10 154.58H139.10V156.03H123.10ZM115.50 155.30L124.70 151.50L123.10 155.30L124.70 159.10Z" fill="#000000"/>
<path d="M123.10 161.78H139.10V163.22H123.10ZM115.50 162.50L124.70 158.70L123.10 162.50L124.70 166.30Z" fill="#000000"/>
<path d="M123.10 169.08H139.10V170.53H123.10ZM115.50 169.80L124.70 166.00L123.10 169.80L124.70 173.60Z" fill="#000000"/>
<path d="M123.10 176.28H139.10V177.72H123.10ZM115.50 177.00L124.70 173.20L123.10 177.00L124.70 180.80Z" fill="#000000"/>
<path d="M208.60 107.28H224.60V108.72H208.60ZM232.20 108.00L223.00 104.20L224.60 108.00L223.00 111.80Z" fill="#e2001a"/>
<path d="M217.50 114.58H233.50V116.02H217.50ZM209.90 115.30L219.10 111.50L217.50 115.30L219.10 119.10Z" fill="#e2001a"/>
<path d="M217.50 121.78H233.50V123.22H217.50ZM209.90 122.50L219.10 118.70L217.50 122.50L219.10 126.30Z" fill="#e2001a"/>
<path d="M217.50 128.88H233.50V130.32H217.50ZM209.90 129.60L219.10 125.80L217.50 129.60L219.10 133.40Z" fill="#e2001a"/>
<path d="M263.10 201.78H279.10V203.22H263.10ZM255.50 202.50L264.70 198.70L263.10 202.50L264.70 206.30Z" fill="#1f6fdf"/>
<path d="M254.20 209.08H270.20V210.53H254.20ZM277.80 209.80L268.60 206.00L270.20 209.80L268.60 213.60Z" fill="#1f6fdf"/>
<path d="M263.10 216.28H279.10V217.72H263.10ZM255.50 217.00L264.70 213.20L263.10 217.00L264.70 220.80Z" fill="#1f6fdf"/>
<path d="M263.10 223.28H279.10V224.72H263.10ZM255.50 224.00L264.70 220.20L263.10 224.00L264.70 227.80Z" fill="#1f6fdf"/>
<path d="M362.20 125.18H378.20V126.62H362.20ZM385.80 125.90L376.60 122.10L378.20 125.90L376.60 129.70Z" fill="#e2001a"/>
<path d="M371.10 132.47H387.10V133.92H371.10ZM363.50 133.20L372.70 129.40L371.10 133.20L372.70 137.00Z" fill="#e2001a"/>
<path d="M362.20 139.68H378.20V141.12H362.20ZM385.80 140.40L376.60 136.60L378.20 140.40L376.60 144.20Z" fill="#e2001a"/>
<path d="M371.10 146.97H387.10V148.42H371.10ZM363.50 147.70L372.70 143.90L371.10 147.70L372.70 151.50Z" fill="#e2001a"/>
<path d="M371.10 243.08H387.10V244.53H371.10ZM363.50 243.80L372.70 240.00L371.10 243.80L372.70 247.60Z" fill="#1f6fdf"/>
<path d="M362.20 250.38H378.20V251.82H362.20ZM385.80 251.10L376.60 247.30L378.20 251.10L376.60 254.90Z" fill="#1f6fdf"/>
<path d="M371.10 257.67H387.10V259.12H371.10ZM363.50 258.40L372.70 254.60L371.10 258.40L372.70 262.20Z" fill="#1f6fdf"/>
<path d="M362.20 264.77H378.20V266.23H362.20ZM385.80 265.50L376.60 261.70L378.20 265.50L376.60 269.30Z" fill="#1f6fdf"/>
<path d="M466.70 99.78H482.70V101.22H466.70ZM490.30 100.50L481.10 96.70L482.70 100.50L481.10 104.30Z" fill="#e2001a"/>
<path d="M475.60 107.08H491.60V108.52H475.60ZM468.00 107.80L477.20 104.00L475.60 107.80L477.20 111.60Z" fill="#e2001a"/>
<path d="M466.70 114.38H482.70V115.82H466.70ZM490.30 115.10L481.10 111.30L482.70 115.10L481.10 118.90Z" fill="#e2001a"/>
<path d="M466.70 121.68H482.70V123.12H466.70ZM490.30 122.40L481.10 118.60L482.70 122.40L481.10 126.20Z" fill="#e2001a"/>
<path d="M523.70 226.18H539.70V227.62H523.70ZM516.10 226.90L525.30 223.10L523.70 226.90L525.30 230.70Z" fill="#1f6fdf"/>
<path d="M514.80 233.38H530.80V234.82H514.80ZM538.40 234.10L529.20 230.30L530.80 234.10L529.20 237.90Z" fill="#1f6fdf"/>
<path d="M514.80 240.68H530.80V242.12H514.80ZM538.40 241.40L529.20 237.60L530.80 241.40L529.20 245.20Z" fill="#1f6fdf"/>
<path d="M514.80 247.97H530.80V249.42H514.80ZM538.40 248.70L529.20 244.90L530.80 248.70L529.20 252.50Z" fill="#1f6fdf"/>
<path d="M607.00 175.18H623.00V176.62H607.00ZM630.60 175.90L621.40 172.10L623.00 175.90L621.40 179.70Z" fill="#000000"/>
<path d="M607.00 182.68H623.00V184.12H607.00ZM630.60 183.40L621.40 179.60L623.00 183.40L621.40 187.20Z" fill="#000000"/>
<path d="M607.00 189.78H623.00V191.22H607.00ZM630.60 190.50L621.40 186.70L623.00 190.50L621.40 194.30Z" fill="#000000"/>
<path d="M607.00 197.08H623.00V198.53H607.00ZM630.60 197.80L621.40 194.00L623.00 197.80L621.40 201.60Z" fill="#000000"/>
<path d="M125.00 516.98H141.00V518.43H125.00ZM117.40 517.70L126.60 513.90L125.00 517.70L126.60 521.50Z" fill="#000000"/>
<path d="M125.00 524.27H141.00V525.73H125.00ZM117.40 525.00L126.60 521.20L125.00 525.00L126.60 528.80Z" fill="#000000"/>
<path d="M125.00 531.38H141.00V532.83H125.00ZM117.40 532.10L126.60 528.30L125.00 532.10L126.60 535.90Z" fill="#000000"/>
<path d="M125.00 538.67H141.00V540.12H125.00ZM117.40 539.40L126.60 535.60L125.00 539.40L126.60 543.20Z" fill="#000000"/>
<path d="M240.40 610.38H256.40V611.83H240.40ZM232.80 611.10L242.00 607.30L240.40 611.10L242.00 614.90Z" fill="#231f20"/>
<path d="M231.50 617.48H247.50V618.93H231.50ZM255.10 618.20L245.90 614.40L247.50 618.20L245.90 622.00Z" fill="#231f20"/>
<path d="M240.40 624.77H256.40V626.23H240.40ZM232.80 625.50L242.00 621.70L240.40 625.50L242.00 629.30Z" fill="#231f20"/>
<path d="M240.40 632.07H256.40V633.52H240.40ZM232.80 632.80L242.00 629.00L240.40 632.80L242.00 636.60Z" fill="#231f20"/>
<path d="M334.60 542.88H350.60V544.33H334.60ZM327.00 543.60L336.20 539.80L334.60 543.60L336.20 547.40Z" fill="#231f20"/>
<path d="M325.70 550.17H341.70V551.62H325.70ZM349.30 550.90L340.10 547.10L341.70 550.90L340.10 554.70Z" fill="#231f20"/>
<path d="M334.60 557.48H350.60V558.93H334.60ZM327.00 558.20L336.20 554.40L334.60 558.20L336.20 562.00Z" fill="#231f20"/>
<path d="M325.70 564.57H341.70V566.02H325.70ZM349.30 565.30L340.10 561.50L341.70 565.30L340.10 569.10Z" fill="#231f20"/>
<path d="M525.60 577.98H541.60V579.43H525.60ZM518.00 578.70L527.20 574.90L525.60 578.70L527.20 582.50Z" fill="#231f20"/>
<path d="M516.70 585.17H532.70V586.62H516.70ZM540.30 585.90L531.10 582.10L532.70 585.90L531.10 589.70Z" fill="#231f20"/>
<path d="M516.70 592.77H532.70V594.23H516.70ZM540.30 593.50L531.10 589.70L532.70 593.50L531.10 597.30Z" fill="#231f20"/>
<path d="M516.70 599.88H532.70V601.33H516.70ZM540.30 600.60L531.10 596.80L532.70 600.60L531.10 604.40Z" fill="#231f20"/>
<path d="M208.60 833.67H224.60V835.12H208.60ZM232.20 834.40L223.00 830.60L224.60 834.40L223.00 838.20Z" fill="#231f20"/>
<path d="M217.50 840.77H233.50V842.23H217.50ZM209.90 841.50L219.10 837.70L217.50 841.50L219.10 845.30Z" fill="#231f20"/>
<path d="M217.50 848.07H233.50V849.52H217.50ZM209.90 848.80L219.10 845.00L217.50 848.80L219.10 852.60Z" fill="#231f20"/>
<path d="M217.50 855.27H233.50V856.73H217.50ZM209.90 856.00L219.10 852.20L217.50 856.00L219.10 859.80Z" fill="#231f20"/>
<path d="M400.70 900.17H416.70V901.62H400.70ZM424.30 900.90L415.10 897.10L416.70 900.90L415.10 904.70Z" fill="#231f20"/>
<path d="M409.60 907.67H425.60V909.12H409.60ZM402.00 908.40L411.20 904.60L409.60 908.40L411.20 912.20Z" fill="#231f20"/>
<path d="M400.70 914.77H416.70V916.23H400.70ZM424.30 915.50L415.10 911.70L416.70 915.50L415.10 919.30Z" fill="#231f20"/>
<path d="M409.60 922.07H425.60V923.52H409.60ZM402.00 922.80L411.20 919.00L409.60 922.80L411.20 926.60Z" fill="#231f20"/>
<path d="M491.80 826.07H507.80V827.52H491.80ZM515.40 826.80L506.20 823.00L507.80 826.80L506.20 830.60Z" fill="#231f20"/>
<path d="M500.70 833.57H516.70V835.02H500.70ZM493.10 834.30L502.30 830.50L500.70 834.30L502.30 838.10Z" fill="#231f20"/>
<path d="M491.80 840.67H507.80V842.12H491.80ZM515.40 841.40L506.20 837.60L507.80 841.40L506.20 845.20Z" fill="#231f20"/>
<path d="M491.80 847.98H507.80V849.43H491.80ZM515.40 848.70L506.20 844.90L507.80 848.70L506.20 852.50Z" fill="#231f20"/>
<path d="M607.00 891.17H623.00V892.62H607.00ZM630.60 891.90L621.40 888.10L623.00 891.90L621.40 895.70Z" fill="#000000"/>
<path d="M607.00 898.48H623.00V899.93H607.00ZM630.60 899.20L621.40 895.40L623.00 899.20L621.40 903.00Z" fill="#000000"/>
<path d="M607.00 905.77H623.00V907.23H607.00ZM630.60 906.50L621.40 902.70L623.00 906.50L621.40 910.30Z" fill="#000000"/>
<path d="M607.00 912.98H623.00V914.43H607.00ZM630.60 913.70L621.40 909.90L623.00 913.70L621.40 917.50Z" fill="#000000"/>
<path d="M169.60 50.48H185.10V51.93H169.60ZM192.70 51.20L183.50 47.40L185.10 51.20L183.50 55.00Z" fill="#231f20"/>
<path d="M271.10 50.57H286.60V52.02H271.10ZM294.20 51.30L285.00 47.50L286.60 51.30L285.00 55.10Z" fill="#231f20"/>
<path d="M165.50 409.77H181.00V411.23H165.50ZM188.60 410.50L179.40 406.70L181.00 410.50L179.40 414.30Z" fill="#231f20"/>
<path d="M288.00 409.88H303.50V411.33H288.00ZM311.10 410.60L301.90 406.80L303.50 410.60L301.90 414.40Z" fill="#231f20"/>
<path d="M173.40 770.07H188.90V771.52H173.40ZM196.50 770.80L187.30 767.00L188.90 770.80L187.30 774.60Z" fill="#231f20"/>
<path d="M292.70 769.88H308.20V771.33H292.70ZM315.80 770.60L306.60 766.80L308.20 770.60L306.60 774.40Z" fill="#231f20"/>
<g font-family="Liberation Sans, sans-serif" font-size="19" fill="#000"><text x="102.96" y="56.6">&#8722;0.6 T</text><text x="203.5" y="56.6">+0.6 T</text><text x="307.6" y="56.6">&#8722;0.6 T</text><text x="98.96" y="416.4">&#8722;0.6 T</text><text x="204.7" y="416.4">+0.35 T</text><text x="325.3" y="416.4">&#8722;0.6 T</text><text x="100.2" y="776.8">+0.6 T</text><text x="210.7" y="776.8">&#8722;0.35 T</text><text x="329.8" y="776.8">+0.6 T</text><text x="473.2" y="49.7">Forward sweep</text><text x="473.2" y="78.9">Backward sweep</text><text x="471.7" y="408.8">Forward sweep</text><text x="471.7" y="438.3">Backward sweep</text><text x="472.3" y="770.5">Backward sweep</text><text x="472.3" y="799.5">Forward sweep</text></g>
<g fill="none" stroke-width="1.1"><circle cx="456.8" cy="44.1" r="4.9" stroke="#1f6fdf"/><circle cx="456.8" cy="73.2" r="4.9" stroke="#f03a3f"/><circle cx="456.8" cy="403.5" r="4.9" stroke="#1f6fdf"/><circle cx="456.8" cy="432.3" r="4.9" stroke="#f03a3f"/><circle cx="456.8" cy="764.7" r="4.9" stroke="#f03a3f"/><circle cx="456.8" cy="793.5" r="4.9" stroke="#1f6fdf"/></g>
</svg></body></html>
